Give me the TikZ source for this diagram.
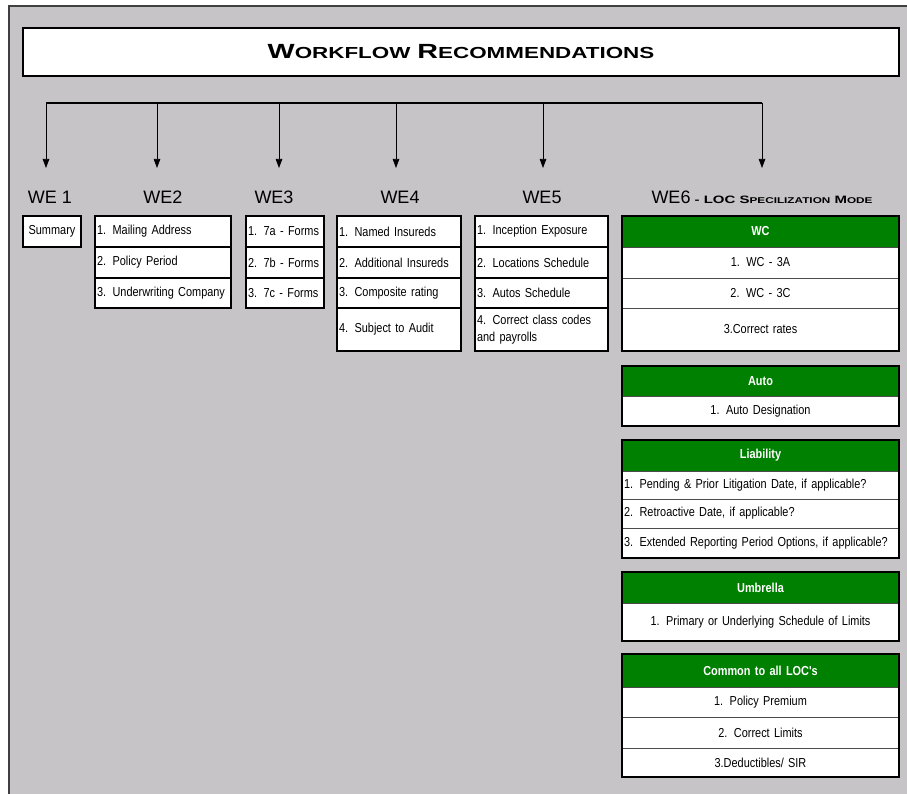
\documentclass[tikz,border=0pt]{standalone}
\usepackage{fontspec}
\setmainfont{Liberation Sans}
\newfontfamily\narrowfont[FakeStretch=0.84]{Liberation Sans}
\newfontfamily\titlefont[FakeStretch=1.4]{Liberation Sans}
\usetikzlibrary{positioning,arrows.meta}
\definecolor{panelgray}{RGB}{198,196,198}
\definecolor{locgreen}{RGB}{0,128,0}
\hyphenpenalty=10000
\exhyphenpenalty=10000
\newcommand{\bodyfont}{\narrowfont\fontsize{13}{17}\selectfont
  \spaceskip=2.8pt plus 1pt minus 0.5pt\xspaceskip=2.8pt plus 1pt\relax}
\newcommand{\titbig}{\fontsize{20.5}{22}\selectfont}
\newcommand{\titsmall}{\fontsize{16}{18}\selectfont}
\newcommand{\scbig}{\fontsize{10.7}{12}\selectfont}
\newcommand{\scsmall}{\fontsize{8.4}{10}\selectfont}
\tikzset{
  cell/.style={draw=black, line width=1.5pt, fill=white, outer sep=0pt,
    inner xsep=2pt, inner ysep=0pt, minimum height=#1, font=\bodyfont, align=left},
  loccell/.style={draw=gray!60!black, line width=0.8pt, fill=white, outer sep=0pt,
    inner xsep=2pt, inner ysep=0pt, text width=273pt, minimum height=#1,
    font=\bodyfont, align=center},
  lochead/.style={fill=locgreen, text=white, outer sep=0pt, inner xsep=2pt,
    inner ysep=0pt, text width=273pt, minimum height=#1,
    font=\bodyfont\bfseries, align=center},
  locframe/.style={draw=black, line width=1.6pt},
  welabel/.style={font=\fontsize{18}{20}\selectfont, inner sep=0pt, anchor=base},
  branch/.style={line width=0.7pt, -{Triangle[length=9pt,width=6.5pt]}},
}
\begin{document}
\begin{tikzpicture}[x=1pt, y=-1pt]
    \useasboundingbox (0,0) rectangle (907,794);
    % gray panel
    \fill[panelgray] (9,6) rectangle (907,794);
    \draw[black!75, line width=1.2pt] (9,794) -- (9,6) -- (907,6);

    % title
    \node[draw=black, line width=2pt, fill=white, minimum width=876pt,
      minimum height=48pt, inner sep=0pt, font=\titlefont\bfseries] (title) at (461,52)
      {{\titbig W}{\titsmall ORKFLOW}\hspace{7pt}{\titbig R}{\titsmall ECOMMENDATIONS}};

    % branches
    \coordinate (barL) at (46,103);
    \coordinate (barR) at (762,103);
    \draw[line width=2.2pt] (barL) -- (barR);
    \foreach \n/\x in {1/46,2/157,3/279,4/396,5/543,6/762} {
      \coordinate (bar\n) at (\x,103);
      \coordinate (tip\n) at (\x,168);
      \draw[branch] (bar\n) -- (tip\n);
    }

    % labels
    \node[welabel] (we1) at (50,204) {WE 1};
    \node[welabel] (we2) at (163,204) {WE2};
    \node[welabel] (we3) at (274,204) {WE3};
    \node[welabel] (we4) at (400,204) {WE4};
    \node[welabel] (we5) at (542,204) {WE5};
    \node[welabel] (we6) at (762,204)
      {WE6\titlefont\bfseries\scbig\ - LOC S{\scsmall PECILIZATION} M{\scsmall ODE}};

    % WE1
    \node[cell=31pt, text width=54pt, align=center, anchor=north west] (sum) at (23,216) {Summary};

    % WE2
    \node[cell=31pt, text width=132pt, anchor=north west] (we2a) at (95,216) {1. Mailing Address};
    \node[cell=31pt, text width=132pt, below=0pt of we2a] (we2b) {2. Policy Period};
    \node[cell=30pt, text width=132pt, below=0pt of we2b] (we2c) {3. Underwriting Company};

    % WE3
    \node[cell=31pt, text width=74pt, anchor=north west] (we3a) at (246,216) {1. 7a - Forms};
    \node[cell=31pt, text width=74pt, below=0pt of we3a] (we3b) {2. 7b - Forms};
    \node[cell=30pt, text width=74pt, below=0pt of we3b] (we3c) {3. 7c - Forms};

    % WE4
    \node[cell=31pt, text width=120pt, anchor=north west] (we4a) at (337,216) {1. Named Insureds};
    \node[cell=31pt, text width=120pt, below=0pt of we4a] (we4b) {2. Additional Insureds};
    \node[cell=30pt, text width=120pt, below=0pt of we4b] (we4c) {3. Composite rating};
    \node[cell=43pt, text width=120pt, below=0pt of we4c] (we4d) {4. Subject to Audit};

    % WE5
    \node[cell=31pt, text width=129pt, anchor=north west] (we5a) at (475,216) {1. Inception Exposure};
    \node[cell=31pt, text width=129pt, below=0pt of we5a] (we5b) {2. Locations Schedule};
    \node[cell=30pt, text width=129pt, below=0pt of we5b] (we5c) {3. Autos Schedule};
    \node[cell=43pt, text width=129pt, below=0pt of we5c] (we5d) {4. Correct class codes\\and payrolls};

    % WE6 - WC
    \node[lochead=31pt, anchor=north west] (wch) at (622,216) {WC};
    \node[loccell=31pt, below=0pt of wch] (wc1) {1. WC - 3A};
    \node[loccell=30pt, below=0pt of wc1] (wc2) {2. WC - 3C};
    \node[loccell=43pt, below=0pt of wc2] (wc3) {3.Correct rates};
    \draw[locframe] (wch.north west) rectangle (wc3.south east);

    % WE6 - Auto
    \node[lochead=30pt, anchor=north west] (autoh) at (622,366) {Auto};
    \node[loccell=30pt, below=0pt of autoh] (auto1) {1. Auto Designation};
    \draw[locframe] (autoh.north west) rectangle (auto1.south east);

    % WE6 - Liability
    \node[lochead=31pt, anchor=north west] (liabh) at (622,440) {Liability};
    \node[loccell=28pt, align=left, below=0pt of liabh] (liab1) {1. Pending \& Prior Litigation Date, if applicable?};
    \node[loccell=29pt, align=left, below=0pt of liab1] (liab2) {2. Retroactive Date, if applicable?};
    \node[loccell=30pt, align=left, below=0pt of liab2] (liab3) {3. Extended Reporting Period Options, if applicable?};
    \draw[locframe] (liabh.north west) rectangle (liab3.south east);

    % WE6 - Umbrella
    \node[lochead=31pt, anchor=north west] (umbh) at (622,572) {Umbrella};
    \node[loccell=38pt, below=0pt of umbh] (umb1) {1. Primary or Underlying Schedule of Limits};
    \draw[locframe] (umbh.north west) rectangle (umb1.south east);

    % WE6 - Common
    \node[lochead=33pt, anchor=north west] (comh) at (622,654) {Common to all LOC's};
    \node[loccell=30pt, below=0pt of comh] (com1) {1. Policy Premium};
    \node[loccell=31pt, below=0pt of com1] (com2) {2. Correct Limits};
    \node[loccell=29pt, below=0pt of com2] (com3) {3.Deductibles/ SIR};
    \draw[locframe] (comh.north west) rectangle (com3.south east);
\end{tikzpicture}
\end{document}
